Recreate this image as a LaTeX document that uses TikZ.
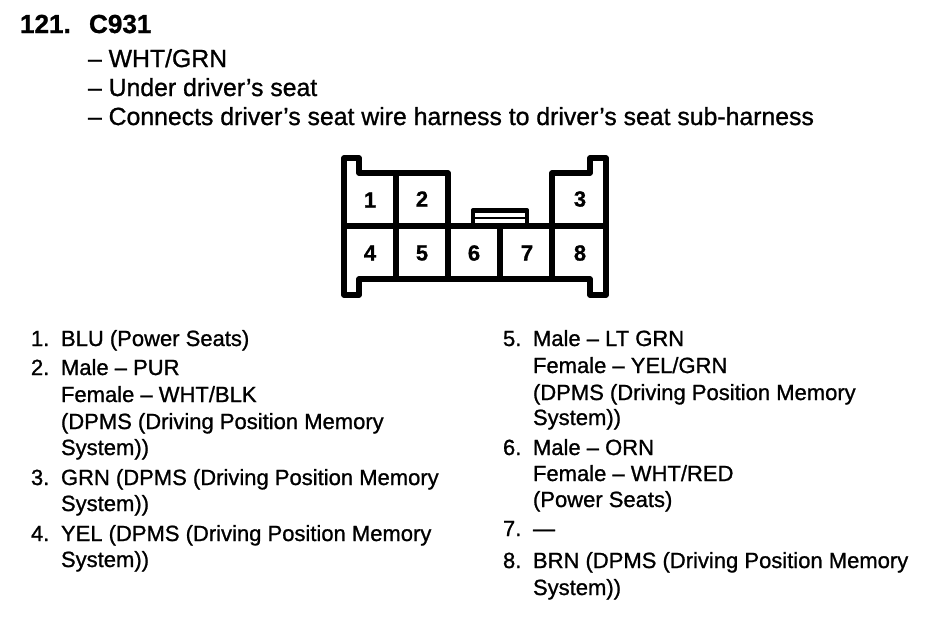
\documentclass[tikz,border=0pt]{standalone}
\usepackage{fontspec}
\setmainfont{Liberation Sans}
\newfontfamily\scanfont[FakeBold=1.0]{Liberation Sans}
\newfontfamily\scanbold[FakeBold=0.9]{Liberation Sans Bold}
\tikzset{
  txt/.style={anchor=base west,inner sep=0pt,outer sep=0pt,font=\scanfont\fontsize{16.5pt}{19pt}\selectfont,text=black},
  sub/.style={txt,font=\scanfont\fontsize{18.6pt}{21pt}\selectfont},
  head/.style={txt,font=\scanbold\fontsize{19.6pt}{22pt}\selectfont},
  pin/.style={anchor=center,inner sep=0pt,outer sep=0pt,font=\scanbold\fontsize{16.5pt}{19pt}\selectfont},
  wall/.style={draw=black,line width=4pt,line join=round,line cap=round},
  thin wall/.style={draw=black,line width=3pt,line join=round,line cap=round},
}
\begin{document}
\begin{tikzpicture}[x=0.75pt,y=-0.75pt]
\useasboundingbox (0,0) rectangle (944,626);
\fill[white] (0,0) rectangle (944,626);
% header
\node[head] (h1) at (20,33) {121.};
\node[head] (h2) at (89,33) {C931};
\node[sub] (s1) at (88,67) {– WHT/GRN};
\node[sub] (s2) at (88,96) {– Under driver’s seat};
\node[sub] (s3) at (88,125) {– Connects driver’s seat wire harness to driver’s seat sub-harness};
% connector body
\draw[wall] (344,158) -- (359,158) -- (359,173) -- (448,173) -- (448,226)
  -- (552,226) -- (552,173) -- (590,173) -- (590,158) -- (606,158)
  -- (606,295) -- (590,295) -- (590,279) -- (359,279) -- (359,295) -- (344,295) -- cycle;
\draw[wall] (344,226) -- (448,226);
\draw[wall] (552,226) -- (606,226);
\draw[wall] (396,173) -- (396,279);
\draw[wall] (448,226) -- (448,279);
\draw[wall] (500,226) -- (500,279);
\draw[wall] (552,226) -- (552,279);
% latch
\draw[thin wall] (473,226) -- (473,210) -- (527,210) -- (527,226);
\draw[wall,line width=2.6pt] (473,211) -- (527,211);
\draw[draw=black,line width=1.6pt] (473,218) -- (527,218);
% pins
\node[pin] (p1) at (370,200) {1};
\node[pin] (p2) at (422,199) {2};
\node[pin] (p3) at (580,199) {3};
\node[pin] (p4) at (370,253) {4};
\node[pin] (p5) at (422,253) {5};
\node[pin] (p6) at (474,253) {6};
\node[pin] (p7) at (527,253) {7};
\node[pin] (p8) at (580,253) {8};
% left list
\node[txt] (n1) at (31,346) {1.};
\node[txt] (l1) at (61,346) {BLU (Power Seats)};
\node[txt] (n2) at (31,375) {2.};
\node[txt] (l2) at (61,375) {Male – PUR};
\node[txt] (l2b) at (61,402) {Female – WHT/BLK};
\node[txt] (l2c) at (61,429) {(DPMS (Driving Position Memory};
\node[txt] (l2d) at (61,455) {System))};
\node[txt] (n3) at (31,485) {3.};
\node[txt] (l3) at (61,485) {GRN (DPMS (Driving Position Memory};
\node[txt] (l3b) at (61,511) {System))};
\node[txt] (n4) at (31,541) {4.};
\node[txt] (l4) at (61,541) {YEL (DPMS (Driving Position Memory};
\node[txt] (l4b) at (61,567) {System))};
% right list
\node[txt] (n5) at (503,346) {5.};
\node[txt] (r5) at (533,346) {Male – LT GRN};
\node[txt] (r5b) at (533,373) {Female – YEL/GRN};
\node[txt] (r5c) at (533,400) {(DPMS (Driving Position Memory};
\node[txt] (r5d) at (533,425) {System))};
\node[txt] (n6) at (503,455) {6.};
\node[txt] (r6) at (533,455) {Male – ORN};
\node[txt] (r6b) at (533,481) {Female – WHT/RED};
\node[txt] (r6c) at (533,507) {(Power Seats)};
\node[txt] (n7) at (503,536) {7.};
\node[txt] (r7) at (533,536) {—};
\node[txt] (n8) at (503,568) {8.};
\node[txt] (r8) at (533,568) {BRN (DPMS (Driving Position Memory};
\node[txt] (r8b) at (533,595) {System))};
\end{tikzpicture}
\end{document}
